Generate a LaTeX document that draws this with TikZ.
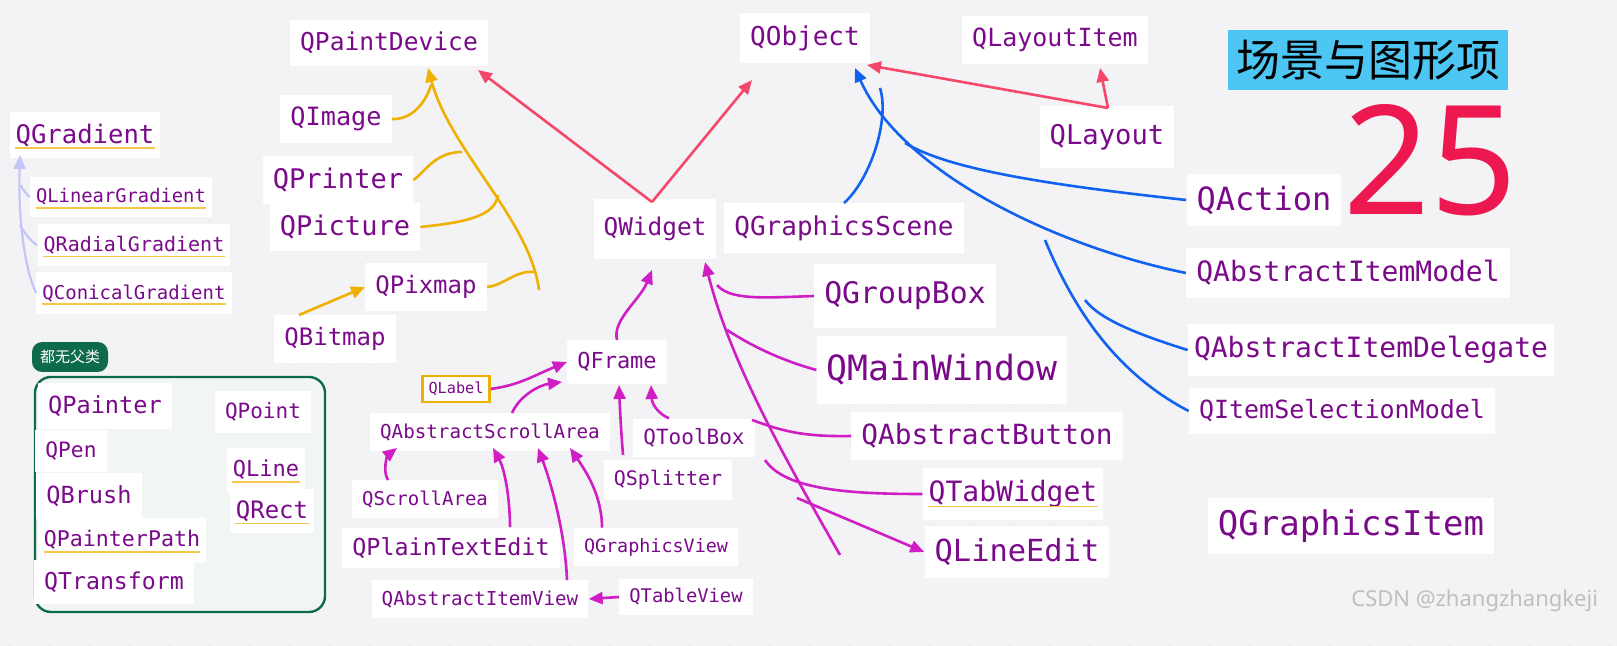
\documentclass[tikz,border=0pt]{standalone}
\usepackage{fontspec}
\setmonofont{DejaVu Sans Mono}
\setsansfont{Noto Sans}
\newfontfamily\cjk{Noto Sans CJK SC}
\usetikzlibrary{positioning,arrows.meta}
\definecolor{bgcol}{HTML}{F3F3F6}
\definecolor{qtext}{HTML}{7A0A8A}
\definecolor{redl}{HTML}{F5476A}
\definecolor{goldl}{HTML}{F0B000}
\definecolor{magl}{HTML}{D01EC4}
\definecolor{bluel}{HTML}{1262F2}
\definecolor{lavl}{HTML}{C4C4F6}
\definecolor{grn}{HTML}{0E6B49}
\tikzset{
    % class name boxes
    cls/.style={
           fill=white,
           text=qtext,
           inner xsep=5pt, inner ysep=6pt,
           font=\ttfamily\fontsize{#1}{#1}\selectfont},
    % underline under some names
    uline/.style={goldl!70, line width=0.8pt},
    % connector styles
    red/.style={-{Triangle[length=7pt,width=6pt]}, redl, line width=1.3pt},
    gold/.style={goldl, line width=1.3pt},
    mag/.style={magl, line width=1.3pt},
    blu/.style={bluel, line width=1.3pt},
    lav/.style={lavl, line width=1.1pt},
    tip/.style={-{Triangle[length=7pt,width=6pt]}}
}
\newcommand*{\ul}[1]{\draw[uline] ([xshift=3pt,yshift=-2.5pt]#1.base west) -- ([xshift=-3pt,yshift=-2.5pt]#1.base east);}
\begin{document}
\begin{tikzpicture}[x=0.5pt,y=-0.5pt]
\fill[bgcol] (0,0) rectangle (1617,646);
\useasboundingbox (0,0) rectangle (1617,646);
% background dots
\foreach \i in {0,...,40} \foreach \j in {0,...,16}
  \fill[black!18] (\i*40+10,\j*40+5) circle (0.6);

% Qt paint system
\node[cls=12.3] (pdev) at (389,43) {QPaintDevice};
\node[cls=12.6] (img) at (336,119) {QImage};
\node[cls=13.5] (prn) at (338,180) {QPrinter};
\node[cls=13.5] (pic) at (345,227) {QPicture};
\node[cls=12] (pix) at (426,287) {QPixmap};
\node[cls=12] (bmp) at (335,339) {QBitmap};

% gradients
\node[cls=12.8, inner xsep=3pt] (grad) at (85,135) {QGradient};
\node[cls=9.4, inner xsep=3pt] (lgrad) at (121,197) {QLinearGradient};
\node[cls=10, inner xsep=3pt] (rgrad) at (134,245) {QRadialGradient};
\node[cls=9.5, inner xsep=3pt] (cgrad) at (134,293) {QConicalGradient};
\ul{grad} \ul{lgrad} \ul{rgrad} \ul{cgrad}

% no parent classes
\node[fill=grn, text=white, rounded corners=5pt, font=\cjk\fontsize{7.5}{7.5}\selectfont, inner sep=4pt] (tag) at (70,357) {都无父类};
\draw[grn, fill=grn!6, line width=1.2pt, rounded corners=8pt] (35,377) rectangle (325,612);
\node[cls=11.8] (painter) at (105,406) {QPainter};
\node[cls=10.6] (pen) at (71,451) {QPen};
\node[cls=11.8] (brush) at (89,496) {QBrush};
\node[cls=10.8, inner xsep=3pt] (ppath) at (122,540) {QPainterPath};
\node[cls=11.6] (trans) at (114,582) {QTransform};
\node[cls=10.5] (point) at (263,412) {QPoint};
\node[cls=11, inner xsep=3pt] (line) at (266,470) {QLine};
\node[cls=12, inner xsep=3pt] (rect) at (272,511) {QRect};
\ul{ppath} \ul{line} \ul{rect}

% object tree
\node[cls=13] (obj) at (805,38) {QObject};
\node[cls=12.5] (litem) at (1055,40) {QLayoutItem};
\node[cls=13.6, inner ysep=9pt] (lay) at (1107,137) {QLayout};
\node[cls=16] (act) at (1264,200) {QAction};
\node[cls=14] (aim) at (1348,273) {QAbstractItemModel};
\node[cls=14, inner xsep=3pt] (aid) at (1371,350) {QAbstractItemDelegate};
\node[cls=12.5] (ism) at (1342,411) {QItemSelectionModel};
\node[cls=17] (gitem) at (1351,526) {QGraphicsItem};
\node[cls=13] (gscene) at (844,228) {QGraphicsScene};

% widgets
\node[cls=12.2, inner ysep=9pt] (wid) at (655,229) {QWidget};
\node[cls=14.9, inner ysep=9pt] (gbox) at (905,296) {QGroupBox};
\node[cls=17.4, inner ysep=9pt] (mwin) at (942,370) {QMainWindow};
\node[cls=13.9] (abtn) at (987,436) {QAbstractButton};
\node[cls=14, inner xsep=3pt] (tabw) at (1013,494) {QTabWidget};
\node[cls=15.2] (ledit) at (1017,552) {QLineEdit};
\ul{tabw}
\node[cls=11] (frame) at (617,362) {QFrame};
\node[cls=7.6, draw=goldl, line width=1.2pt, inner sep=3pt] (label) at (456,389) {QLabel};
\node[cls=9.6, inner ysep=5pt] (asa) at (490,432) {QAbstractScrollArea};
\node[cls=10.5, inner ysep=5pt] (tbox) at (694,438) {QToolBox};
\node[cls=10, inner ysep=5pt] (split) at (668,480) {QSplitter};
\node[cls=9.5, inner ysep=5pt] (sarea) at (425,499) {QScrollArea};
\node[cls=11.7, inner ysep=5pt] (pte) at (451,548) {QPlainTextEdit};
\node[cls=9.2, inner ysep=5pt] (gview) at (656,547) {QGraphicsView};
\node[cls=9.6, inner ysep=5pt] (aiv) at (480,599) {QAbstractItemView};
\node[cls=9.4, inner ysep=5pt] (tview) at (686,597) {QTableView};

% title and count
\node[fill=cyan!70!white, font=\cjk\fontsize{22}{22}\selectfont, inner xsep=4pt, inner ysep=5pt] (title) at (1368,60) {场景与图形项};
\node[text={rgb,255:red,238;green,24;blue,80}, font=\sffamily\fontsize{76}{76}\selectfont, inner sep=0pt] (num) at (1430,160) {25};
\node[text=black!25, font=\sffamily\fontsize{11}{11}\selectfont, anchor=east] (mark) at (1605,601) {CSDN @zhangzhangkeji};

% red connectors
\coordinate (wtop) at (652,202);
\coordinate (lbase) at (1108,108);
\draw[red] (wtop) -- (478,70);
\draw[red] (wtop) -- (752,80);
\draw[red] (lbase) -- (867,65);
\draw[red] (lbase) -- (1100,68);

% gold connectors
\coordinate (gbase) at (539,290);
\draw[gold, tip] (gbase) .. controls (530,220) and (450,150) .. (428,68);
\draw[gold] (img.east) .. controls (410,120) and (425,105) .. (431,85);
\draw[gold] (prn.east) .. controls (425,172) and (435,152) .. (462,152);
\draw[gold] (pic.east) .. controls (470,222) and (495,215) .. (498,195);
\draw[gold] (pix.east) .. controls (505,285) and (515,270) .. (535,272);
\draw[gold, tip] (bmp.north west) ++(25,0) -- (pix.west);

% lavender gradient tree
\draw[lav, tip] (cgrad.west) .. controls (25,270) and (18,220) .. (20,155);
\draw[lav] (lgrad.west) .. controls (28,195) and (22,190) .. (21,185);
\draw[lav] (rgrad.west) .. controls (35,245) and (25,235) .. (20,225);

% magenta connectors
\draw[mag, tip] (frame.north) .. controls (612,320) and (640,300) .. (652,270);
\coordinate (mbase) at (840,555);
\draw[mag, tip] (mbase) .. controls (780,450) and (730,360) .. (705,262);
\draw[mag] (gbox.west) .. controls (760,298) and (730,300) .. (717,285);
\draw[mag] (mwin.west) .. controls (780,360) and (750,345) .. (727,330);
\draw[mag] (abtn.west) .. controls (800,437) and (780,430) .. (752,420);
\draw[mag] (tabw.west) .. controls (850,494) and (785,490) .. (765,460);
\draw[mag, tip] (797,498) -- (ledit.west);
\draw[mag, tip] (label.east) .. controls (520,385) and (535,375) .. (frame.west);
\draw[mag, tip] (asa.north) ++(22,0) .. controls (520,395) and (540,385) .. (562,382);
\draw[mag, tip] (split.north) ++(-45,-5) .. controls (621,430) and (620,410) .. (619,385);
\draw[mag, tip] (tbox.north) ++(-25,0) .. controls (660,415) and (652,405) .. (651,385);
\draw[mag, tip] (sarea.north) ++(-37,0) .. controls (382,470) and (388,455) .. (397,448);
\draw[mag, tip] (pte.north) ++(59,0) .. controls (510,500) and (505,470) .. (493,448);
\draw[mag, tip] (aiv.north) ++(87,0) .. controls (565,530) and (550,480) .. (538,448);
\draw[mag, tip] (gview.north) ++(-54,0) .. controls (602,495) and (585,470) .. (570,448);
\draw[mag, tip] (tview.west) -- (aiv.east);

% blue connectors
\draw[blu, tip] (aim.west) .. controls (1050,245) and (900,170) .. (855,68);
\draw[blu] (act.west) .. controls (1050,185) and (950,170) .. (905,143);
\draw[blu] (ism.west) .. controls (1110,370) and (1070,300) .. (1045,240);
\draw[blu] (aid.west) .. controls (1140,335) and (1100,320) .. (1085,300);
\draw[blu] (gscene.north) .. controls (870,180) and (890,120) .. (880,88);
\end{tikzpicture}
\end{document}
